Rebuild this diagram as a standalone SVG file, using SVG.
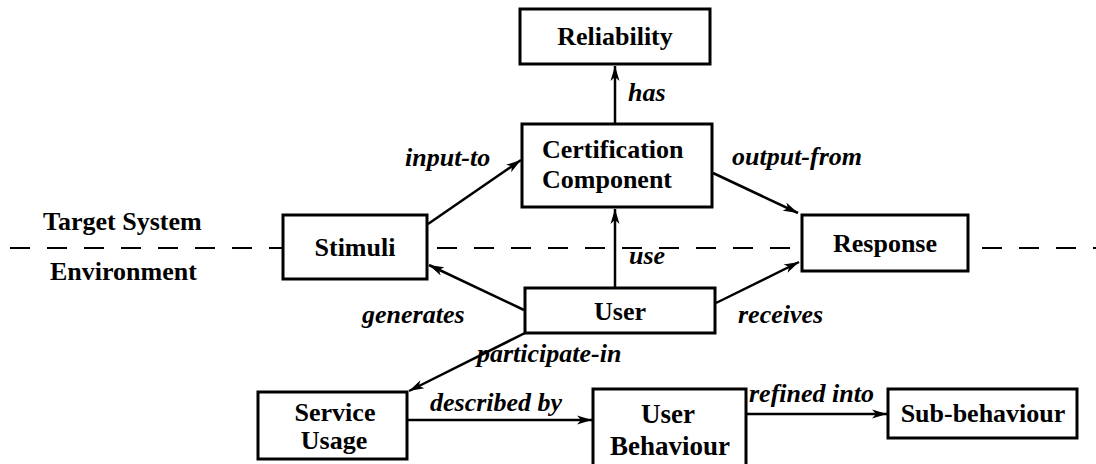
<svg xmlns="http://www.w3.org/2000/svg" width="1096" height="464" viewBox="0 0 1096 464" font-family="Liberation Serif, Times New Roman, serif">
<style>
.box{fill:#fff;stroke:#000;stroke-width:3}
.nt{font-weight:bold;font-size:26px;fill:#000}
.nb{font-weight:bold;font-size:27px;fill:#000}
.lt{font-weight:bold;font-style:italic;font-size:26px;fill:#000}
.c{text-anchor:middle}
.ln{stroke:#000;stroke-width:2.5;fill:none;marker-end:url(#ah)}
.dash{stroke:#000;stroke-width:2;stroke-dasharray:20 17;fill:none}
</style>
<defs>
<marker id="ah" markerUnits="userSpaceOnUse" markerWidth="16" markerHeight="10" refX="15" refY="5" orient="auto">
<path d="M0,0.5 L15,5 L0,9.5 L4,5 Z" fill="#000"/>
</marker>
</defs>
<rect width="1096" height="464" fill="#fff"/>
<g id="boundary">
<line class="dash" x1="10" y1="248" x2="283" y2="248"/>
<line class="dash" x1="437" y1="248" x2="802" y2="248"/>
<line class="dash" x1="982" y1="248" x2="1096" y2="248"/>
<text class="nt" x="43" y="230">Target System</text>
<text class="nt" x="50" y="280">Environment</text>
</g>
<g id="connectors">
<line class="ln" x1="615" y1="124" x2="615" y2="66"/>
<line class="ln" x1="428" y1="224" x2="521" y2="160"/>
<line class="ln" x1="713" y1="173" x2="798" y2="213"/>
<line class="ln" x1="615" y1="288" x2="615" y2="209"/>
<line class="ln" x1="524" y1="310" x2="429" y2="265"/>
<line class="ln" x1="716" y1="303" x2="799" y2="262"/>
<line class="ln" x1="525" y1="333" x2="409" y2="391"/>
<line class="ln" x1="407" y1="420" x2="592" y2="420"/>
<line class="ln" x1="746" y1="414" x2="887" y2="414"/>
<text class="lt" x="628" y="101">has</text>
<text class="lt" x="405" y="166">input-to</text>
<text class="lt" x="732" y="165">output-from</text>
<text class="lt" x="629" y="264">use</text>
<text class="lt" x="362" y="323">generates</text>
<text class="lt" x="738" y="323">receives</text>
<text class="lt" x="477" y="362">participate-in</text>
<text class="lt" x="430" y="411">described by</text>
<text class="lt" x="749" y="402">refined into</text>
</g>
<g id="reliability">
<rect class="box" x="520" y="9" width="190" height="55"/>
<text class="nt c" x="615" y="45">Reliability</text>
</g>
<g id="certification">
<rect class="box" x="522" y="124" width="190" height="83"/>
<text class="nt" x="542" y="158">Certification</text>
<text class="nt" x="542" y="188">Component</text>
</g>
<g id="stimuli">
<rect class="box" x="283" y="215" width="144" height="64"/>
<text class="nt c" x="355" y="256">Stimuli</text>
</g>
<g id="response">
<rect class="box" x="802" y="215" width="166" height="56"/>
<text class="nt c" x="885" y="252">Response</text>
</g>
<g id="user">
<rect class="box" x="525" y="288" width="190" height="45"/>
<text class="nt c" x="620" y="320">User</text>
</g>
<g id="service-usage">
<rect class="box" x="258" y="392" width="149" height="67"/>
<text class="nt c" x="335" y="421">Service</text>
<text class="nt c" x="334" y="449">Usage</text>
</g>
<g id="user-behaviour">
<rect class="box" x="593" y="389" width="153" height="90"/>
<text class="nb c" x="668" y="423">User</text>
<text class="nb c" x="670" y="455">Behaviour</text>
</g>
<g id="sub-behaviour">
<rect class="box" x="888" y="389" width="189" height="49"/>
<text class="nt c" x="983" y="422">Sub-behaviour</text>
</g>
</svg>
